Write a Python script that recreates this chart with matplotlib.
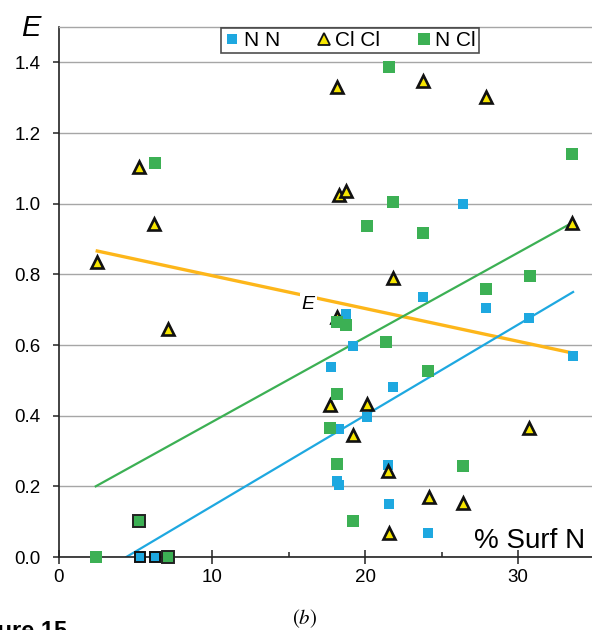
import matplotlib
matplotlib.use("Agg")
import matplotlib.pyplot as plt
from matplotlib.lines import Line2D
from matplotlib.ticker import MultipleLocator

plt.rcParams['font.family'] = ['Liberation Sans', 'DejaVu Sans']

# N N pairs (blue squares); the ones sitting on zero are drawn with an outline
nn_x = [17.8, 18.2, 18.3, 18.3, 18.75, 19.2, 20.1, 21.5, 21.6, 21.8, 23.8, 24.1, 26.4, 27.9, 30.7, 33.6]
nn_y = [0.538, 0.215, 0.205, 0.362, 0.687, 0.597, 0.397, 0.26, 0.15, 0.481, 0.735, 0.068, 1.0, 0.704, 0.676, 0.568]
nn_boxed_x = [5.3, 6.3]
nn_boxed_y = [0.0, 0.0]

# Cl Cl pairs (yellow triangles)
clcl_x = [2.5, 5.25, 6.2, 7.1, 17.7, 18.2, 18.2, 18.3, 18.75, 19.2, 20.1, 21.5, 21.6, 21.8, 23.8, 24.2, 26.4, 27.9, 30.7, 33.5]
clcl_y = [0.835, 1.104, 0.942, 0.645, 0.43, 0.68, 1.33, 1.024, 1.035, 0.345, 0.433, 0.243, 0.068, 0.79, 1.347, 0.17, 0.152, 1.302, 0.365, 0.945]

# N Cl pairs (green squares)
nc_x = [2.4, 6.3, 17.7, 18.2, 18.2, 18.2, 18.75, 19.2, 20.1, 21.4, 21.6, 21.8, 23.8, 24.1, 26.4, 27.9, 30.8, 33.5]
nc_y = [0.0, 1.114, 0.365, 0.263, 0.46, 0.665, 0.658, 0.103, 0.937, 0.608, 1.387, 1.005, 0.917, 0.526, 0.257, 0.758, 0.795, 1.14]
nc_boxed_x = [5.25, 7.1]
nc_boxed_y = [0.102, 0.0]

# trend lines (end points)
nn_fit_x, nn_fit_y = [4.4, 33.6], [0.0, 0.75]
nc_fit_x, nc_fit_y = [2.4, 33.5], [0.20, 0.945]
e_fit_x, e_fit_y = [2.5, 33.6], [0.866, 0.577]

BLUE = '#1ea8e0'
GREEN = '#3cb054'
YELLOW = '#f7e600'
ORANGE = '#fdb61a'

fig = plt.figure(figsize=(5.92, 6.30), dpi=100)
ax = fig.add_axes([59 / 592, 73 / 630, 535.5 / 592, 530 / 630])

ax.set_xlim(0, 35)
ax.set_ylim(0, 1.5)

# grid + frame
ax.set_yticks([0.0, 0.2, 0.4, 0.6, 0.8, 1.0, 1.2, 1.4])
ax.set_yticklabels(['0.0', '0.2', '0.4', '0.6', '0.8', '1.0', '1.2', '1.4'])
ax.xaxis.set_major_locator(MultipleLocator(10))
ax.xaxis.set_minor_locator(MultipleLocator(5))
ax.grid(axis='y', color='#a6a6a6', lw=1.0, zorder=0)
ax.set_axisbelow(True)
ax.spines['right'].set_visible(False)
ax.spines['top'].set_color('#a6a6a6')
ax.spines['top'].set_linewidth(1.0)
for s in ['left', 'bottom']:
    ax.spines[s].set_color('#222222')
    ax.spines[s].set_linewidth(1.2)
ax.tick_params(axis='x', which='major', direction='inout', length=10, width=1.1,
               labelsize=13.5, pad=4, color='#222222')
ax.tick_params(axis='x', which='minor', direction='in', length=3.5, width=1.1, color='#222222')
ax.tick_params(axis='y', direction='out', length=4.5, width=1.1, labelsize=13.5, pad=9,
               color='#222222')

# trend lines
ax.plot(e_fit_x, e_fit_y, color=ORANGE, lw=2.4, zorder=2)
ax.plot(nc_fit_x, nc_fit_y, color=GREEN, lw=1.6, zorder=2)
ax.plot(nn_fit_x, nn_fit_y, color=BLUE, lw=1.6, zorder=2)

# points
ax.plot(nn_x, nn_y, 's', ms=7.2, color=BLUE, mew=0, zorder=3, clip_on=False)
ax.plot(nn_boxed_x, nn_boxed_y, 's', ms=7.8, mfc=BLUE, mec='#111111', mew=1.4, zorder=3,
        clip_on=False)
ax.plot(clcl_x, clcl_y, '^', ms=9.2, mfc=YELLOW, mec='#111111', mew=1.9, zorder=4, clip_on=False)
ax.plot(nc_x, nc_y, 's', ms=9.2, color=GREEN, mew=0, zorder=5, clip_on=False)
ax.plot(nc_boxed_x, nc_boxed_y, 's', ms=8.6, mfc=GREEN, mec='#222222', mew=1.4, zorder=5,
        clip_on=False)

# labels
ax.text(16.3, 0.716, 'E', fontsize=14, style='italic', ha='center', va='center', zorder=3,
        bbox=dict(facecolor='white', edgecolor='none', pad=1.5))
ax.text(34.4, 0.025, '% Surf N', fontsize=20, ha='right', va='baseline', zorder=6)
fig.text(21 / 592, (630 - 36) / 630, 'E', fontsize=21, style='italic', ha='left', va='baseline')

handles = [
    Line2D([], [], ls='none', marker='s', ms=7.2, color=BLUE, mew=0),
    Line2D([], [], ls='none', marker='^', ms=9, mfc=YELLOW, mec='#111111', mew=1.3),
    Line2D([], [], ls='none', marker='s', ms=9, color=GREEN, mew=0),
]
leg = ax.legend(handles, ['N N', 'Cl Cl', 'N Cl'], ncol=3, loc='upper center',
                bbox_to_anchor=(0.543, 0.998), fontsize=15, frameon=True, fancybox=False,
                edgecolor='#222222', borderpad=0.15, handlelength=0.8, handletextpad=0.15,
                columnspacing=1.7, borderaxespad=0)
leg.get_frame().set_linewidth(1.2)
leg.set_zorder(10)

# caption pieces
fig.text(305 / 592, (630 - 619) / 630, r'$(b)$', fontsize=15, ha='center', va='center',
         math_fontfamily='stix')
fig.text(67 / 592, (630 - 620) / 630, 'Figure 15', fontsize=17, fontweight='bold',
         ha='right', va='top')

fig.savefig('out.png', dpi=100)
